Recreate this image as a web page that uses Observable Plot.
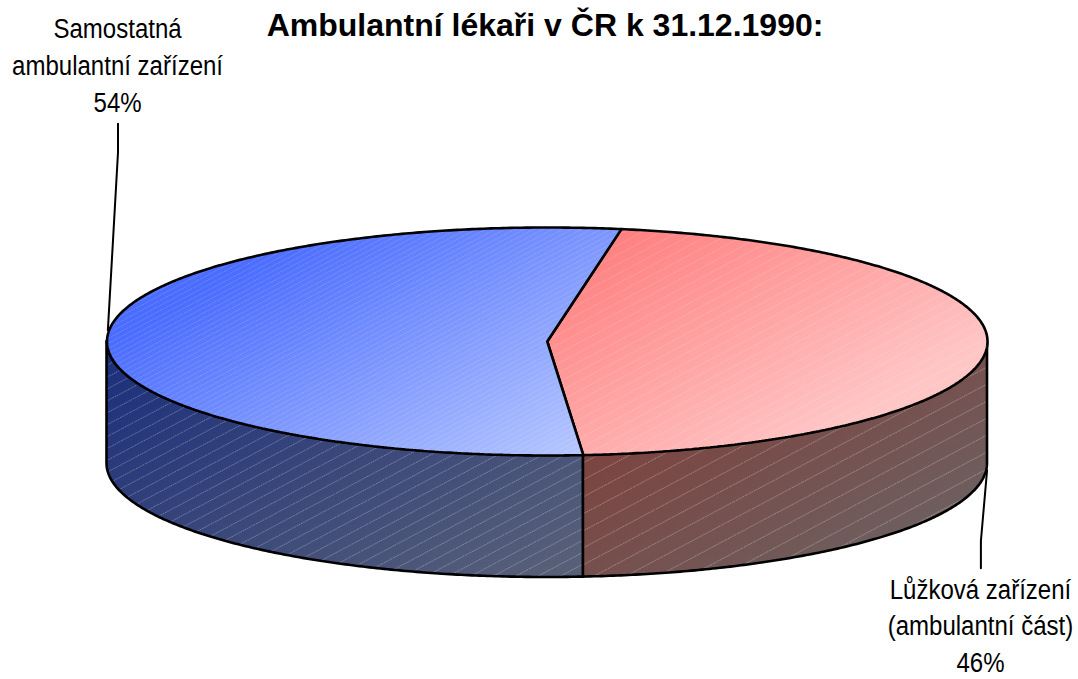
<!DOCTYPE html>
<html lang="cs">
<head>
<meta charset="utf-8">
<style>html,body{margin:0;padding:0;background:#fff}svg{display:block}</style>
<script src="https://cdn.jsdelivr.net/npm/d3@7"></script>
<script src="https://cdn.jsdelivr.net/npm/@observablehq/plot@0.6"></script>
</head>
<body>
<script>
const chartTitle = "Ambulantní lékaři v ČR k 31.12.1990:";
const categories = ["Lůžková zařízení\n(ambulantní část)", "Samostatná\nambulantní zařízení"];
const shares = [46, 54];
const sliceIds = ["red", "blue"];
const labelX = [0.984, -0.976];
const labelY = [-2.475, 2.445];
const leaderX = [[0.999, 0.985, 0.985], [-0.975, -0.975, -0.998]];
const leaderY = [[-1.13, -1.75, -1.99], [1.91, 1.66, 0.10]];
const startAngle = 9.7;   // degrees clockwise from the top of the pie
const depth = 1.07;       // wall height, in y-radius units

const font = "'Liberation Sans', Arial, sans-serif";

// Slices from the shares
const total = d3.sum(shares);
let acc = startAngle;
const slices = shares.map((v, i) => {
  const a0 = acc; acc += v / total * 360;
  return {id: sliceIds[i], a0, a1: acc};
});
const rad = d => d * Math.PI / 180;
const pt = a => ({x: Math.sin(rad(a)), y: Math.cos(rad(a))});
const arc = (a0, a1) => {
  const n = Math.max(2, Math.ceil((a1 - a0) / 0.5));
  return d3.range(n + 1).map(i => pt(a0 + (a1 - a0) * i / n));
};
const topShape = s => [{x: 0, y: 0}, ...arc(s.a0, s.a1), {x: 0, y: 0}];
const wallShape = s => {
  const a0 = Math.max(s.a0, 90), a1 = Math.min(s.a1, 270);
  return arc(a0, a1).map(p => ({x: p.x, y1: p.y, y2: p.y - depth}));
};

// Gradients + hatch paint servers
function defs() {
  const d = d3.create("svg:defs");
  const grad = (id, x1, y1, x2, y2, c0, c1) => {
    const g = d.append("linearGradient").attr("id", id).attr("gradientUnits", "userSpaceOnUse")
      .attr("x1", x1).attr("y1", y1).attr("x2", x2).attr("y2", y2);
    g.append("stop").attr("offset", 0).attr("stop-color", c0);
    g.append("stop").attr("offset", 1).attr("stop-color", c1);
  };
  grad("top-blue", 107, 341, 276, 635, "#4a6cff", "#b8c8ff");
  grad("top-red", 622, 232, 760, 473, "#ff8080", "#ffc6c6");
  grad("wall-blue", 107, 360, 312, 717, "#1c2f7c", "#586078");
  grad("wall-red", 590, 460, 700, 651, "#7c4440", "#6e5e5e");
  const hatch = (id, gap, op) => {
    const p = d.append("pattern").attr("id", id).attr("patternUnits", "userSpaceOnUse")
      .attr("width", 40).attr("height", gap).attr("patternTransform", "rotate(-28)");
    p.append("line").attr("x1", 0).attr("x2", 40).attr("y1", gap / 2).attr("y2", gap / 2)
      .attr("stroke", "#fff").attr("stroke-width", 1).attr("stroke-opacity", op)
      .attr("stroke-dasharray", "1.5 1");
  };
  hatch("hatch-top-blue", 4.5, 0.2);
  hatch("hatch-top-red", 8.5, 0.2);
  hatch("hatch-wall-blue", 10.5, 0.32);
  hatch("hatch-wall-red", 15, 0.32);
  return d.node();
}

const marks = [defs];

// Walls first, then top faces
for (const s of slices) {
  const w = wallShape(s);
  marks.push(Plot.areaY(w, {x: "x", y1: "y1", y2: "y2", fill: `url(#wall-${s.id})`}));
  marks.push(Plot.areaY(w, {x: "x", y1: "y1", y2: "y2", fill: `url(#hatch-wall-${s.id})`,
    stroke: "#000", strokeWidth: 2.6, strokeLinejoin: "round"}));
}
for (const s of slices) {
  const t = topShape(s);
  marks.push(Plot.line(t, {x: "x", y: "y", fill: `url(#top-${s.id})`, curve: "linear"}));
  marks.push(Plot.line(t, {x: "x", y: "y", fill: `url(#hatch-top-${s.id})`,
    stroke: "#000", strokeWidth: 2.6, strokeLinejoin: "miter", curve: "linear"}));
}

// Leader lines
leaderX.forEach((xs, i) => {
  const pts = xs.map((x, j) => ({x, y: leaderY[i][j]}));
  marks.push(Plot.line(pts, {x: "x", y: "y", stroke: "#000", strokeWidth: 2, curve: "linear"}));
});

// Labels
const labels = categories.map((c, i) => ({text: `${c}\n${shares[i]}%`, x: labelX[i], y: labelY[i]}));
marks.push(Plot.text(labels, {x: "x", y: "y", text: "text", fontFamily: font, fontSize: 28,
  lineHeight: 1.32, textAnchor: "middle", fill: "#000", className: "pie-label"}));
marks.push(Plot.text([chartTitle], {x: [-0.005], y: [2.772], text: d => d, fontFamily: font,
  fontSize: 32, fontWeight: "bold", textAnchor: "middle", fill: "#000"}));

const chart = Plot.plot({
  width: 1078, height: 679,
  marginTop: 0, marginRight: 0, marginBottom: 0, marginLeft: 0,
  style: {background: "#fff", fontFamily: font},
  x: {domain: [-1, 1], range: [106.5, 987], axis: null},
  y: {domain: [-1, 1], range: [455, 227], axis: null},
  marks
});
// The reference labels are set in a tall, condensed cut: squeeze them horizontally.
d3.select(chart).selectAll("g.pie-label text, .pie-label text").each(function() {
  const t = this.getAttribute("transform") || "";
  this.setAttribute("transform", `${t} scale(0.858,1)`);
});
document.body.appendChild(chart);
</script>
</body>
</html>
